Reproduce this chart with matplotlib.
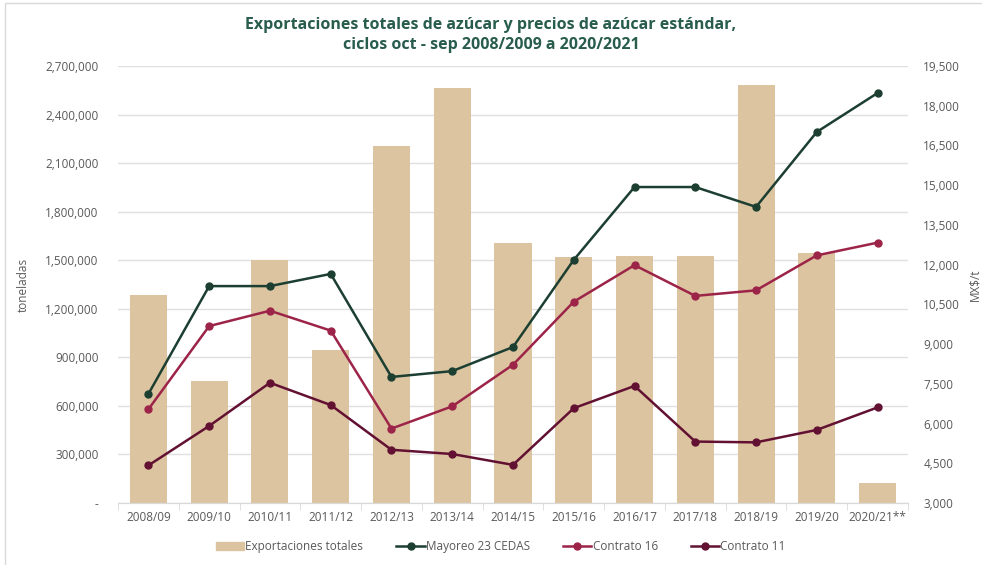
import numpy as np
import matplotlib
matplotlib.use("Agg")
import matplotlib.pyplot as plt
from matplotlib.lines import Line2D
from matplotlib.patches import Patch, Rectangle
from matplotlib.ticker import FuncFormatter, MultipleLocator

plt.rcParams['font.family'] = ['Open Sans', 'DejaVu Sans']

# datos
ciclos = ["2008/09", "2009/10", "2010/11", "2011/12", "2012/13", "2013/14", "2014/15",
          "2015/16", "2016/17", "2017/18", "2018/19", "2019/20", "2020/21**"]
exportaciones = [1285000, 754000, 1501000, 945000, 2205000, 2564000, 1606000,
                 1520000, 1525000, 1525000, 2582000, 1545000, 124000]
mayoreo = [7120, 11190, 11190, 11650, 7760, 7980, 8890,
           12180, 14930, 14930, 14180, 17010, 18480]
contrato16 = [6540, 9680, 10260, 9510, 5810, 6650, 8220,
              10600, 11980, 10820, 11030, 12350, 12830]
contrato11 = [4420, 5910, 7540, 6700, 5010, 4850, 4440,
              6580, 7420, 5320, 5290, 5760, 6610]

c_barra = "#DCC4A0"
c_may = "#1C3F32"
c_c16 = "#9D2449"
c_c11 = "#621132"
gris = "#595959"

fig = plt.figure(figsize=(9.82, 5.65), dpi=100)
ax = fig.add_axes([0.1202, 0.1097, 0.8044, 0.7735])
ax2 = ax.twinx()

x = np.arange(len(ciclos))
ax.bar(x, exportaciones, width=0.61, color=c_barra, zorder=2)
ax.set_xlim(-0.5, len(ciclos) - 0.5)
ax.set_ylim(0, 2700000)
ax.yaxis.set_major_locator(MultipleLocator(300000))
ax.yaxis.set_major_formatter(FuncFormatter(lambda v, p: "-" if v == 0 else f"{v:,.0f}"))
ax.grid(axis="y", color="#E0E0E0", lw=1, zorder=0)
ax.set_axisbelow(True)

for a in (ax, ax2):
    for s in ("top", "left", "right"):
        a.spines[s].set_visible(False)
    a.spines["bottom"].set_color("#D9D9D9")
ax.tick_params(axis="y", length=0, labelsize=8.5, labelcolor=gris, pad=14)
ax2.tick_params(axis="y", length=0, labelsize=8.5, labelcolor=gris, pad=11)

ax.set_xticks(x)
ax.set_xticklabels(ciclos)
ax.set_xticks(np.arange(-0.5, len(ciclos), 1), minor=True)
ax.tick_params(axis="x", which="major", length=0, labelsize=8.5, labelcolor=gris, pad=6)
ax.tick_params(axis="x", which="minor", length=5, color="#D9D9D9")

ax2.plot(x, mayoreo, color=c_may, lw=1.8, marker="o", ms=5, zorder=4)
ax2.plot(x, contrato16, color=c_c16, lw=1.8, marker="o", ms=5, zorder=4)
ax2.plot(x, contrato11, color=c_c11, lw=1.8, marker="o", ms=5, zorder=4)
ax2.set_ylim(3000, 19500)
ax2.yaxis.set_major_locator(MultipleLocator(1500))
ax2.yaxis.set_major_formatter(FuncFormatter(lambda v, p: f"{v:,.0f}"))

ax.set_ylabel("toneladas", fontsize=8.5, color=gris)
ax.yaxis.set_label_coords(-0.112, 0.5)
ax2.set_ylabel("MX$/t", fontsize=8.5, color=gris)
ax2.yaxis.set_label_coords(1.077, 0.5)

fig.text(0.5, 0.938, "Exportaciones totales de azúcar y precios de azúcar estándar,\n"
         "ciclos oct - sep 2008/2009 a 2020/2021", ha="center", va="center",
         fontsize=11.5, fontweight="bold", color="#285C4D", linespacing=1.3)

handles = [Patch(color=c_barra),
           Line2D([], [], color=c_may, lw=1.8, marker="o", ms=5),
           Line2D([], [], color=c_c16, lw=1.8, marker="o", ms=5),
           Line2D([], [], color=c_c11, lw=1.8, marker="o", ms=5)]
labels = ["Exportaciones totales", "Mayoreo 23 CEDAS", "Contrato 16", "Contrato 11"]
fig.legend(handles, labels, loc="center", bbox_to_anchor=(0.51, 0.032), ncol=4,
           frameon=False, fontsize=8.5, handlelength=2.4, handletextpad=0.1,
           columnspacing=2.8, labelcolor=gris)

# marco de la figura
fig.patches.append(Rectangle((0.005, -0.01), 1.1, 1.005, transform=fig.transFigure,
                             fill=False, edgecolor="#D9D9D9", lw=1))

fig.savefig("out.png", dpi=100)
